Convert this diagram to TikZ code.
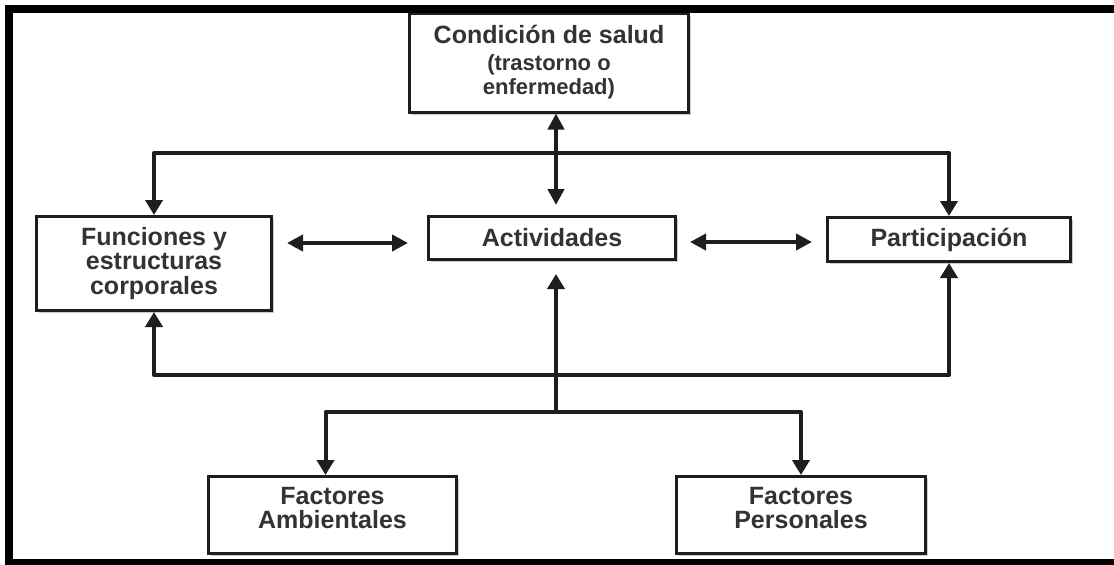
\documentclass[tikz,border=0pt]{standalone}
\usepackage{fontspec}
\setmainfont{Liberation Sans}
\usetikzlibrary{arrows.meta,calc,shadows}
\definecolor{ink}{HTML}{1E1E1E}
\definecolor{txt}{HTML}{333333}
\begin{document}
\begin{tikzpicture}[x=1pt,y=-1pt,
  box/.style={draw=ink, line width=3pt, fill=white, inner sep=0pt, align=center,
    font=\bfseries\fontsize{25}{24.5}\selectfont, text=txt,
    drop shadow={shadow xshift=2.5pt, shadow yshift=-2.5pt, fill=black!40, opacity=0.5}},
  conn/.style={draw=ink, line width=4pt, line join=round},
  tip/.style={-{Triangle[width=17pt,length=15pt]}},
  dbl/.style={{Triangle[width=16pt,length=16pt]}-{Triangle[width=16pt,length=16pt]}},
]
\useasboundingbox (0,0) rectangle (1114,565);
\fill[white] (0,0) rectangle (1114,565);

% boxes
\node[box, minimum width=279pt, minimum height=99pt] (cond) at (549,62.5)
  {Condición de salud\\[2pt]\fontsize{22}{21.5}\selectfont (trastorno o\\\fontsize{22}{21.5}\selectfont enfermedad)};
\node[box, minimum width=235pt, minimum height=94pt] (func) at (154,263.5)
  {Funciones y\\estructuras\\corporales};
\node[box, minimum width=247pt, minimum height=43pt] (act) at (552,238) {Actividades};
\node[box, minimum width=243pt, minimum height=44pt] (part) at (949,239.5) {Participación};
\node[box, minimum width=248pt, minimum height=77pt, text depth=14pt] (amb) at (332.5,515) {Factores\\Ambientales};
\node[box, minimum width=249pt, minimum height=77pt, text depth=14pt] (pers) at (801,515) {Factores\\Personales};

% junction points
\coordinate (hubA) at (556,153);
\coordinate (hubB) at (556,375);
\coordinate (hubC) at (556,412);

% top distribution
\draw[conn,tip] (hubA) -| (func.north);
\draw[conn,tip] (hubA) -| (part.north);
\draw[conn,dbl] (cond.south -| hubA) -- ($(act.north -| hubA)+(0,-10)$);

% horizontal double arrows
\draw[conn,dbl] ($(func.east |- act.west)+(14,5)$) -- ($(act.west)+(-19,5)$);
\draw[conn,dbl] ($(act.east)+(13,4)$) -- ($(part.west |- act.east)+(-14,4)$);

% bottom distribution
\draw[conn,tip] (hubB) -| (func.south);
\draw[conn,tip] (hubB) -| (part.south);
\draw[conn,tip] (hubC) -- ($(act.south -| hubC)+(0,13)$);
\draw[conn,tip] (hubC) -| ($(amb.north)+(-7,0)$);
\draw[conn,tip] (hubC) -| (pers.north);

% outer frame
\fill[black] (5,5) rectangle (1114,13);
\fill[black] (5,5) rectangle (13,565);
\fill[black] (5,559) rectangle (1114,565);
\end{tikzpicture}
\end{document}
